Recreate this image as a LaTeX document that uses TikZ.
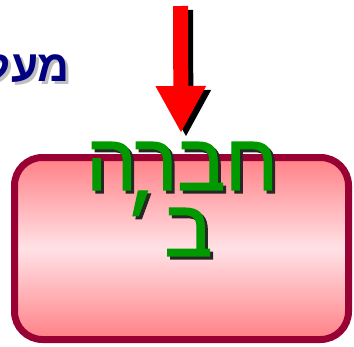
\documentclass[tikz,border=0pt]{standalone}
\usepackage{fontspec}
\newfontfamily\hebfont[Script=Hebrew]{Liberation Sans}
\newfontfamily\hebthick[Script=Hebrew, FakeBold=1.6]{Liberation Sans}
\TeXXeTstate=1
\usetikzlibrary{arrows.meta, positioning}

\definecolor{boxrim}{HTML}{990033}
\definecolor{boxpink}{HTML}{FF8086}
\definecolor{boxlight}{HTML}{FFE2E6}
\definecolor{labelgreen}{HTML}{009900}
\definecolor{titlenavy}{HTML}{000080}
\definecolor{arrowred}{HTML}{FF0000}

\begin{document}
\begin{tikzpicture}[x=1pt, y=-1pt,
    company/.style={draw=boxrim, line width=7pt, rounded corners=28pt,
                    top color=boxpink, bottom color=boxpink, middle color=boxlight,
                    minimum width=334pt, minimum height=182pt, inner sep=0pt},
    labeltext/.style={font=\hebthick\fontsize{80}{63}\selectfont,
                      align=center, inner sep=0pt},
    titletext/.style={font=\hebfont\bfseries\fontsize{44}{44}\selectfont,
                      text=titlenavy, inner sep=0pt, anchor=east},
    bigarr/.style={line width=15pt, -{Triangle[width=47pt, length=47pt]}},
  ]

  \useasboundingbox (0,0) rectangle (354,346);
  \clip (0,0) rectangle (354,346);

  % company box
  \node[company] (box) at (181.5,248.5) {};

  % heading, cut at the left edge
  \node[titletext, text=gray!50] (headshade) at (73,67) {\beginR מעל\endR};
  \node[titletext] (heading) at (70,64) {\beginR מעל\endR};

  % arrow with its shadow
  \coordinate (arrowtop) at (180.5,6);
  \coordinate (arrowtip) at (181,133);
  \draw[bigarr, black] ([shift={(5,4)}]arrowtop) -- ([shift={(5,4)}]arrowtip);
  \draw[bigarr, arrowred] (arrowtop) -- (arrowtip);

  % label with its shadow
  \node[labeltext, text=black!85] (labelshade) at (185,202)
    {\beginR חברה\endR\\\beginR\hspace{27pt}ב\hspace{9pt}׳\endR};
  \node[labeltext, text=labelgreen] (label) at (182,199)
    {\beginR חברה\endR\\\beginR\hspace{27pt}ב\hspace{9pt}׳\endR};

\end{tikzpicture}
\end{document}
